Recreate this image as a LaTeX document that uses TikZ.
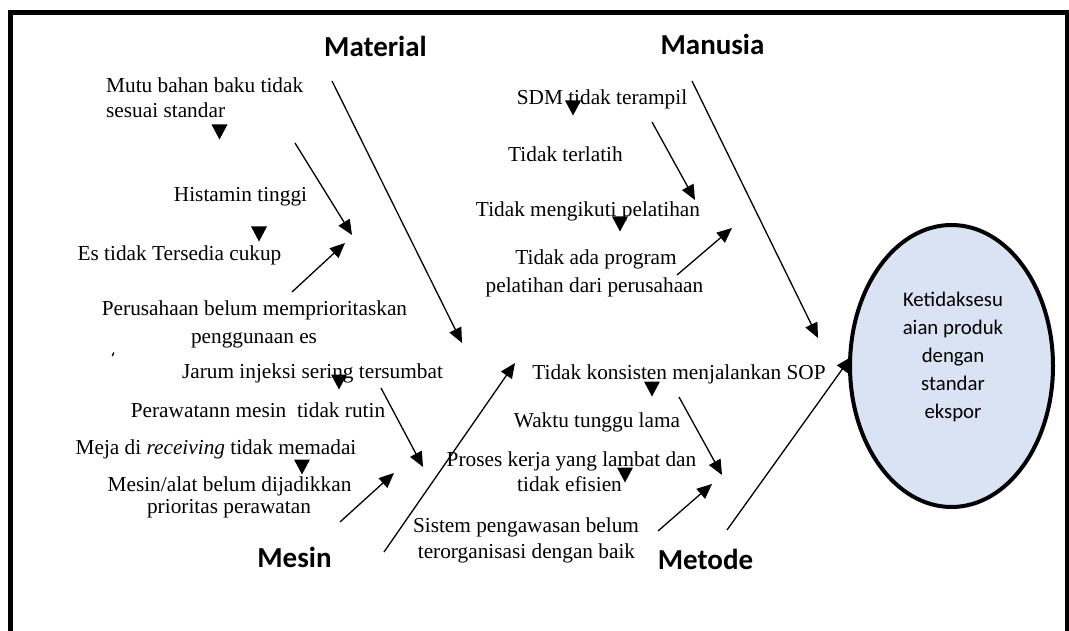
\documentclass[tikz,border=0pt]{standalone}
\usepackage{fontspec}
\setmainfont{Liberation Serif}
\newfontfamily\calib{Carlito}
\usetikzlibrary{arrows.meta,shapes.geometric}
\definecolor{effectfill}{HTML}{DAE3F3}
\tikzset{
  txt/.style={font=\fontsize{21.3}{25}\selectfont, inner sep=0pt, anchor=base},
  cat/.style={font=\calib\bfseries\fontsize{29}{33}\selectfont, inner sep=0pt, anchor=base},
  arr/.style={line width=1.3pt, -{Triangle[length=15pt,width=13pt]}},
  bone/.style={line width=1.3pt, -{Triangle[length=15pt,width=13pt]}},
  frameline/.style={line width=5pt, line cap=butt},
  tri/.pic={\fill (-8,-7.5) -- (8,-7.5) -- (0,7.5) -- cycle;}
}
\begin{document}
\begin{tikzpicture}[x=1pt,y=-1pt]
\useasboundingbox (0,0) rectangle (1069,631);
% frame (open at bottom)
\draw[frameline, line join=miter] (10.5,631) -- (10.5,12.5) -- (1067,12.5) -- (1067,631);

% category labels
\node[cat] (material) at (375.5,57) {Material};
\node[cat] (manusia) at (712.5,55) {Manusia};
\node[cat] (mesin) at (294.5,567) {Mesin};
\node[cat] (metode) at (705.5,569) {Metode};

% Material causes
\node[txt, anchor=base west] (mat1a) at (106,93) {Mutu bahan baku tidak};
\node[txt, anchor=base west] (mat1b) at (106,118) {sesuai standar};
\node[txt] (mat2) at (240.5,202) {Histamin tinggi};
\node[txt] (mat3) at (179.5,261) {Es tidak Tersedia cukup};
\node[txt] (mat4a) at (254.5,316) {Perusahaan belum memprioritaskan};
\node[txt] (mat4b) at (254,344) {penggunaan es};

% Mesin causes
\node[txt] (mes1) at (312.5,378) {Jarum injeksi sering tersumbat};
\node[txt] (mes2) at (258,417) {Perawatann mesin\ \ tidak rutin};
\node[txt] (mes3) at (216,454) {Meja di \textit{receiving} tidak memadai};
\node[txt] (mes4a) at (229.5,491) {Mesin/alat belum dijadikkan};
\node[txt] (mes4b) at (229,513) {prioritas perawatan};

% Manusia causes
\node[txt] (man1) at (602,105) {SDM tidak terampil};
\node[txt] (man2) at (565.5,162) {Tidak terlatih};
\node[txt] (man3) at (588,217) {Tidak mengikuti pelatihan};
\node[txt] (man4a) at (596,265) {Tidak ada program};
\node[txt] (man4b) at (594.5,293) {pelatihan dari perusahaan};

% Metode causes
\node[txt] (met1) at (679,379) {Tidak konsisten menjalankan SOP};
\node[txt] (met2) at (597,427) {Waktu tunggu lama};
\node[txt] (met3a) at (571.5,466) {Proses kerja yang lambat dan};
\node[txt] (met3b) at (569.5,491) {tidak efisien};
\node[txt] (met4a) at (526,532) {Sistem pengawasan belum};
\node[txt] (met4b) at (526.5,558) {terorganisasi dengan baik};

% stray mark
\draw[line width=1.3pt] (112.3,356) -- (113.8,352.5);

% loose triangles
\pic at (219.5,132) {tri};
\pic at (259,234) {tri};
\pic at (573,108) {tri};
\pic at (620,224) {tri};
\pic at (339,382) {tri};
\pic at (302,467) {tri};
\pic at (652,389) {tri};
\pic at (625,475) {tri};

% coordinates of arrows
\coordinate (a1s) at (295,143);  \coordinate (a1e) at (352,235);
\coordinate (a2s) at (292,292);  \coordinate (a2e) at (345,243);
\coordinate (a3s) at (381,388);  \coordinate (a3e) at (423,467);
\coordinate (a4s) at (340,522);  \coordinate (a4e) at (394,473);
\coordinate (a5s) at (652,122);  \coordinate (a5e) at (695,200);
\coordinate (a6s) at (677,275);  \coordinate (a6e) at (732,228);
\coordinate (a7s) at (679,397);  \coordinate (a7e) at (722,475);
\coordinate (a8s) at (658,531);  \coordinate (a8e) at (712,484);
\coordinate (b1s) at (332,81);   \coordinate (b1e) at (462,343);
\coordinate (b2s) at (384,552);  \coordinate (b2e) at (515,363);
\coordinate (b3s) at (692,81);   \coordinate (b3e) at (818,338);
\coordinate (b4s) at (727,530);  \coordinate (b4e) at (851,357);

\draw[arr] (a1s) -- (a1e);
\draw[arr] (a2s) -- (a2e);
\draw[arr] (a3s) -- (a3e);
\draw[arr] (a4s) -- (a4e);
\draw[arr] (a5s) -- (a5e);
\draw[arr] (a6s) -- (a6e);
\draw[arr] (a7s) -- (a7e);
\draw[arr] (a8s) -- (a8e);
\draw[bone] (b1s) -- (b1e);
\draw[bone] (b2s) -- (b2e);
\draw[bone] (b3s) -- (b3e);
\draw[bone] (b4s) -- (b4e);

% effect
\node[ellipse, draw, line width=4pt, fill=effectfill, minimum width=203pt, minimum height=282pt, inner sep=0pt] (effect) at (951.5,366) {};
\node[font=\calib\fontsize{20.8}{28}\selectfont, align=center, inner sep=0pt] (effecttxt) at (953,357) {Ketidaksesu\\aian produk\\dengan\\standar\\ekspor};
\end{tikzpicture}
\end{document}
